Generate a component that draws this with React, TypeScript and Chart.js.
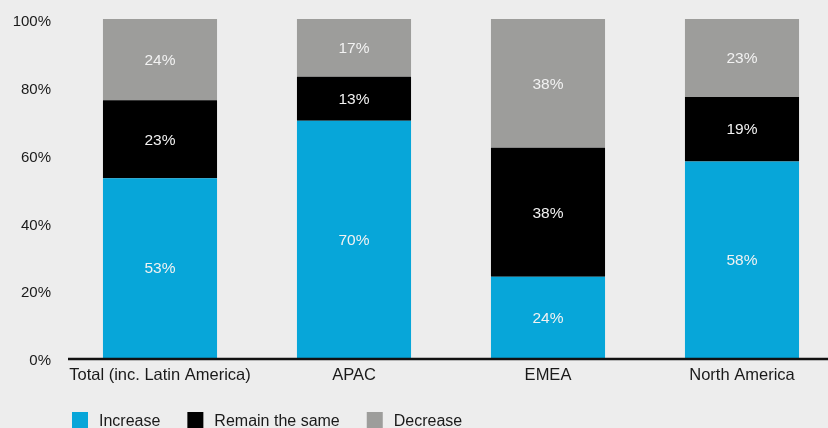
import React, { useEffect, useRef } from "react";
import { Chart, registerables } from "chart.js";

Chart.register(...registerables);

const categories = ["Total (inc. Latin America)", "APAC", "EMEA", "North America"];
const increase = [53, 70, 24, 58];
const remainSame = [23, 13, 38, 19];
const decrease = [24, 17, 38, 23];
const yTicks = [0, 20, 40, 60, 80, 100];
const seriesNames = ["Increase", "Remain the same", "Decrease"];
const seriesColors = ["#07a6d9", "#000000", "#9d9d9b"];

const FONT = "'Liberation Sans', Arial, Helvetica, sans-serif";

const valueLabels = {
  id: "valueLabels",
  afterDatasetsDraw(chart: any) {
    const ctx = chart.ctx;
    ctx.save();
    ctx.font = `15.5px ${FONT}`;
    ctx.fillStyle = "#f2f2f2";
    ctx.textAlign = "center";
    ctx.textBaseline = "middle";
    chart.data.datasets.forEach((ds: any, i: number) => {
      const meta = chart.getDatasetMeta(i);
      meta.data.forEach((bar: any, j: number) => {
        const v = ds.data[j];
        const cy = (bar.y + bar.base) / 2 + 1;
        ctx.fillText(`${v}%`, bar.x, cy);
      });
    });
    ctx.restore();
  },
};

const axisLine = {
  id: "axisLine",
  afterDatasetsDraw(chart: any) {
    const ctx = chart.ctx;
    const y = chart.scales.y.getPixelForValue(0);
    ctx.save();
    ctx.strokeStyle = "#111";
    ctx.lineWidth = 2.5;
    ctx.beginPath();
    ctx.moveTo(chart.chartArea.left + 5, y + 1);
    ctx.lineTo(chart.width, y + 1);
    ctx.stroke();
    ctx.restore();
  },
};

const customLegend = {
  id: "customLegend",
  afterDraw(chart: any) {
    const ctx = chart.ctx;
    ctx.save();
    ctx.font = `16px ${FONT}`;
    ctx.textBaseline = "middle";
    ctx.textAlign = "left";
    let x = 72;
    const top = 412;
    chart.data.datasets.forEach((ds: any) => {
      ctx.fillStyle = ds.backgroundColor;
      ctx.fillRect(x, top, 16, 16);
      ctx.fillStyle = "#1a1a1a";
      const tx = x + 16 + 11;
      ctx.fillText(ds.label, tx, top + 10);
      x = tx + ctx.measureText(ds.label).width + 27;
    });
    ctx.restore();
  },
};

export default function App() {
  const ref = useRef<HTMLCanvasElement>(null);
  useEffect(() => {
    document.body.style.margin = "0";
    document.body.style.background = "#ededed";
    const chart = new Chart(ref.current!, {
      type: "bar",
      data: {
        labels: categories,
        datasets: [increase, remainSame, decrease].map((d, i) => ({
          label: seriesNames[i],
          data: d,
          backgroundColor: seriesColors[i],
          borderWidth: 0,
          barPercentage: 0.588,
          categoryPercentage: 1,
        })),
      },
      options: {
        animation: false,
        responsive: false,
        maintainAspectRatio: false,
        layout: { padding: { top: 19, right: 1, bottom: 40, left: 0 } },
        plugins: { legend: { display: false }, tooltip: { enabled: false } },
        scales: {
          x: {
            stacked: true,
            grid: { display: false, drawTicks: false },
            border: { display: false },
            ticks: { color: "#1a1a1a", font: { family: FONT, size: 16.5 }, padding: 8, maxRotation: 0, autoSkip: false },
            afterFit(scale: any) { scale.height = 30; scale.paddingLeft = 0; scale.paddingRight = 0; },
          },
          y: {
            stacked: true,
            min: 0,
            max: 100,
            afterBuildTicks(scale: any) { scale.ticks = yTicks.map((v) => ({ value: v })); },
            grid: { display: false, drawTicks: false },
            border: { display: false },
            ticks: { color: "#1a1a1a", font: { family: FONT, size: 15 }, padding: 12, labelOffset: 3, callback: (v: any) => `${v}%` },
            afterFit(scale: any) { scale.width = 63; scale.paddingTop = 0; scale.paddingBottom = 0; },
          },
        },
      },
      plugins: [valueLabels, axisLine, customLegend],
    });
    return () => chart.destroy();
  }, []);
  return (
    <div style={{ width: 828, height: 428, overflow: "hidden", background: "#ededed" }}>
      <canvas ref={ref} width={840} height={428} style={{ display: "block" }} />
    </div>
  );
}
